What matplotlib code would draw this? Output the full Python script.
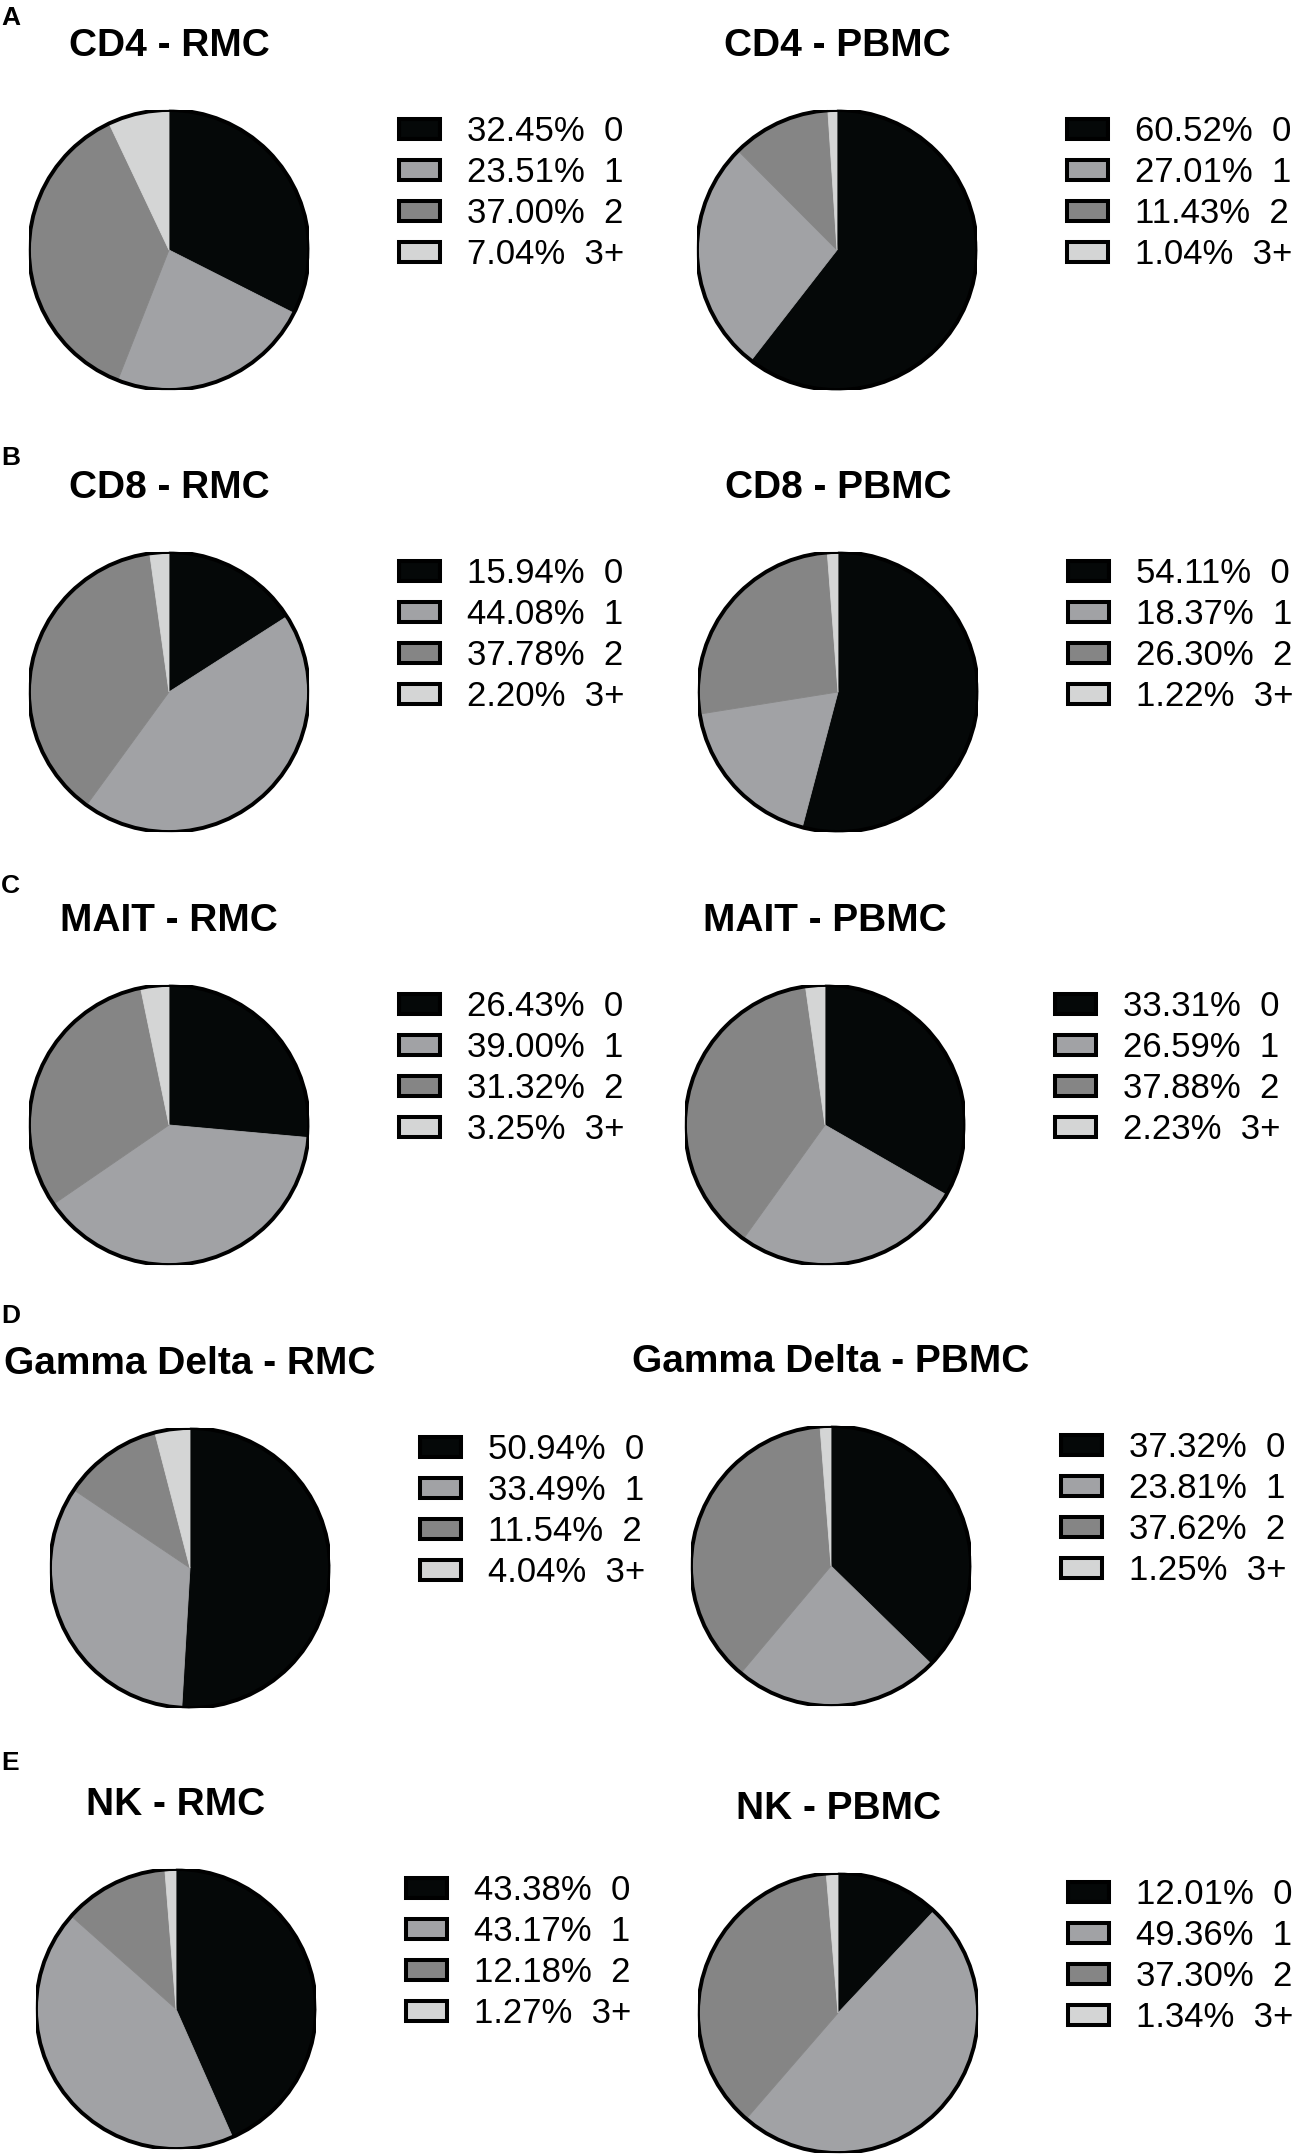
import matplotlib.pyplot as plt
from matplotlib.patches import Circle, Patch

# ------------------ Data ------------------
categories = ["0", "1", "2", "3+"]
colors = ["#050808", "#a1a2a5", "#858585", "#d4d5d5"]

titles = [
    "CD4 - RMC", "CD4 - PBMC",
    "CD8 - RMC", "CD8 - PBMC",
    "MAIT - RMC", "MAIT - PBMC",
    "Gamma Delta - RMC", "Gamma Delta - PBMC",
    "NK - RMC", "NK - PBMC",
]

cd4_rmc = [32.45, 23.51, 37.00, 7.04]
cd4_pbmc = [60.52, 27.01, 11.43, 1.04]
cd8_rmc = [15.94, 44.08, 37.78, 2.20]
cd8_pbmc = [54.11, 18.37, 26.30, 1.22]
mait_rmc = [26.43, 39.00, 31.32, 3.25]
mait_pbmc = [33.31, 26.59, 37.88, 2.23]
gd_rmc = [50.94, 33.49, 11.54, 4.04]
gd_pbmc = [37.32, 23.81, 37.62, 1.25]
nk_rmc = [43.38, 43.17, 12.18, 1.27]
nk_pbmc = [12.01, 49.36, 37.30, 1.34]

series = [cd4_rmc, cd4_pbmc, cd8_rmc, cd8_pbmc, mait_rmc, mait_pbmc,
          gd_rmc, gd_pbmc, nk_rmc, nk_pbmc]

panel_letters = ["A", "B", "C", "D", "E"]

# ------------------ Layout (pixels) ------------------
W, H = 1295, 2155
R = 140
centers = [(169, 250), (837, 250),
           (169, 692), (838, 692),
           (169, 1125), (825, 1125),
           (190, 1568), (831, 1566),
           (176, 2009), (838, 2013)]
letter_y = [25, 465, 893, 1323, 1770]

plt.rcParams['font.family'] = ['Liberation Sans', 'DejaVu Sans']

fig = plt.figure(figsize=(W / 100, H / 100), dpi=100)


def fx(x):
    return x / W


def fy(y):
    return 1 - y / H


for title, vals, (cx, cy) in zip(titles, series, centers):
    ax = fig.add_axes([fx(cx - R), fy(cy + R), 2 * R / W, 2 * R / H])
    wedges, _ = ax.pie(vals, colors=colors, startangle=90, counterclock=False,
                       radius=1, wedgeprops={'linewidth': 0.6})
    for w in wedges:
        w.set_edgecolor(w.get_facecolor())
    ax.add_patch(Circle((0, 0), 1, fill=False, edgecolor='black', lw=2.8, zorder=5))
    ax.set_xlim(-1, 1)
    ax.set_ylim(-1, 1)
    ax.set_aspect('equal')
    ax.axis('off')

    # title
    fig.text(fx(cx), fy(cy - 194), title, ha='center', va='baseline',
             fontsize=28, fontweight='bold')

    # legend
    handles = [Patch(facecolor=c, edgecolor='black', lw=2.9) for c in colors]
    labels = [f"{v:.2f}%  {cat}" for v, cat in zip(vals, categories)]
    fig.legend(handles, labels, loc='center left',
               bbox_to_anchor=(fx(cx + 230), fy(cy - 57)),
               bbox_transform=fig.transFigure, frameon=False,
               fontsize=25, handlelength=1.18, handleheight=0.52,
               handletextpad=0.78, labelspacing=0.23,
               borderpad=0, borderaxespad=0)

for letter, ly in zip(panel_letters, letter_y):
    fig.text(fx(1), fy(ly), letter, ha='left', va='baseline',
             fontsize=19, fontweight='bold')

fig.savefig("out.png", dpi=100)
